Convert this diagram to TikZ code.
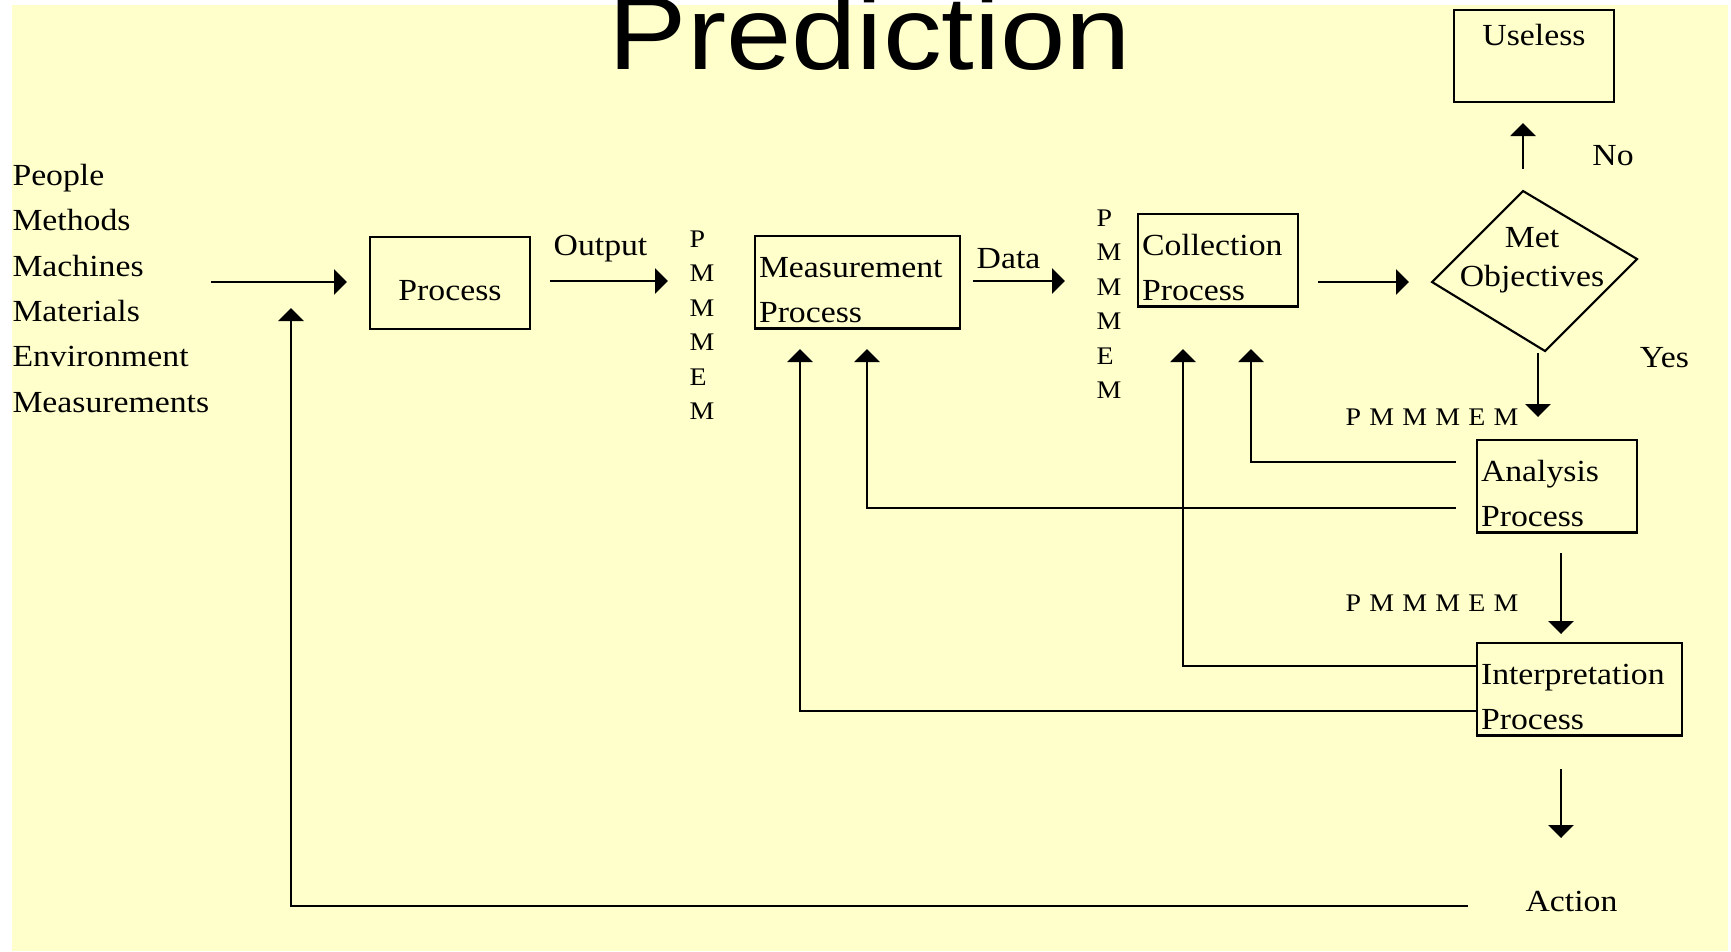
\documentclass[tikz,border=0pt]{standalone}
\usepackage{fontspec}
\setmainfont{Liberation Serif}[FakeStretch=1.1]
\newfontfamily\titlefont{Liberation Sans}[FakeStretch=1.13]
\usetikzlibrary{arrows.meta}
\definecolor{slidebg}{RGB}{255,255,204}

\tikzset{every picture/.style={line width=0.75pt}}
\tikzset{
  procbox/.style={draw, line width=1.6pt, outer sep=0pt, inner xsep=3pt, inner ysep=0pt,
    align=left, anchor=base west, font=\fontsize{23}{33.75}\selectfont,
    text height=30.75pt, text depth=38.6pt},
  narrow/.style={text width=114pt},
  wide/.style={text width=147.75pt},
  lbl/.style={inner sep=0pt, anchor=base, font=\fontsize{23}{27.6}\selectfont},
  pmcol/.style={inner sep=0pt, align=left, text width=20pt, anchor=base west,
    font=\fontsize{19}{25.9}\selectfont},
  pmrow/.style={inner sep=0pt, anchor=base west, font=\fontsize{19}{22.8}\selectfont,
    execute at begin node={\spaceskip=6.2pt\relax}},
  flow/.style={line width=1.8pt, -{Triangle[length=9.75pt,width=18.75pt]}},
}

\begin{document}
\begin{tikzpicture}[x=0.75pt,y=0.75pt,yscale=-1,xscale=1]
\useasboundingbox (0,0) rectangle (1731,951);
%Shape: Rectangle [slide]
\fill [slidebg] (12,5) rectangle (1728,951);

% Text Node
\node [inner sep=0pt, anchor=base, font=\titlefont\fontsize{78}{80}\selectfont] (title) at (870,69) {Prediction};
% Text Node
\node [inner sep=0pt, anchor=base west, align=left, text width=165pt, font=\fontsize{23}{34}\selectfont] (inputs) at (12,185.5) {People\\Methods\\Machines\\Materials\\Environment\\Measurements};

%Shape: Rectangle [process]
\node [procbox, narrow, align=center, text height=47.25pt, text depth=21.75pt] (proc) at (370,300) {Process};
%Shape: Rectangle [measurement]
\node [procbox, wide] (meas) at (755,277) {Measurement\\Process};
%Shape: Rectangle [collection]
\node [procbox, narrow] (coll) at (1138,255) {Collection\\Process};
%Shape: Rectangle [analysis]
\node [procbox, narrow] (anal) at (1477,481) {Analysis\\Process};
%Shape: Rectangle [interpretation]
\node [procbox, wide] (interp) at (1477,684) {Interpretation\\Process};
%Shape: Rectangle [useless]
\node [procbox, narrow, align=center, text height=26.25pt, text depth=42.75pt] (useless) at (1454,45) {Useless};

%Shape: Diamond [met objectives]
\coordinate (dL) at (1432,282);
\coordinate (dT) at (1523,191);
\coordinate (dR) at (1637,259);
\coordinate (dB) at (1545,351);
\draw [line width=1.6pt] (dL) -- (dT) -- (dR) -- (dB) -- cycle;
\node [inner sep=0pt, anchor=base, align=center, text width=130pt, font=\fontsize{23}{29.25}\selectfont] (metobj) at (1532,247) {Met\\Objectives};

% Text Node
\node [pmcol] (pmA) at (689,247) {P\\M\\M\\M\\E\\M};
\node [pmcol] (pmB) at (1096,226) {P\\M\\M\\M\\E\\M};
\node [pmrow] (pmC) at (1345,425) {P M M M E M};
\node [pmrow] (pmD) at (1345,611) {P M M M E M};
% Text Node
\node [lbl] (output) at (600.5,255) {Output};
\node [lbl] (data) at (1008.5,268) {Data};
\node [lbl] (no) at (1613,165) {No};
\node [lbl] (yes) at (1664.5,367) {Yes};
\node [lbl] (action) at (1571.5,911) {Action};

% free arrow ends
\coordinate (inS) at (211,282);   \coordinate (inE) at (347,282);
\coordinate (outS) at (550,281);  \coordinate (outE) at (668,281);
\coordinate (dataS) at (973,281); \coordinate (dataE) at (1065,281);
\coordinate (colS) at (1318,282); \coordinate (colE) at (1409,282);
\coordinate (noS) at (1523,169);  \coordinate (noE) at (1523,123);
\coordinate (yesS) at (1538,353); \coordinate (yesE) at (1538,417);
\coordinate (anaS) at (1561,553); \coordinate (anaE) at (1561,634);
\coordinate (intS) at (1561,769); \coordinate (intE) at (1561,838);
\coordinate (measU1) at (800,349); \coordinate (measU2) at (867,349);
\coordinate (colU1) at (1183,349); \coordinate (colU2) at (1251,349);
\coordinate (procU) at (291,308);
\coordinate (anaF1) at (1456,462); \coordinate (anaF2) at (1456,508);
\coordinate (actS) at (1468,906);

%Straight Lines
\draw [flow] (inS) -- (inE);
\draw [flow] (outS) -- (outE);
\draw [flow] (dataS) -- (dataE);
\draw [flow] (colS) -- (colE);
\draw [flow] (noS) -- (noE);
\draw [flow] (yesS) -- (yesE);
\draw [flow] (anaS) -- (anaE);
\draw [flow] (intS) -- (intE);
%Feedback Lines
\draw [flow] (anaF1) -| (colU2);
\draw [flow] (anaF2) -| (measU2);
\draw [flow] (interp.west |- 0,666) -| (colU1);
\draw [flow] (interp.west |- 0,711) -| (measU1);
\draw [flow] (actS) -| (procU);

\end{tikzpicture}
\end{document}
